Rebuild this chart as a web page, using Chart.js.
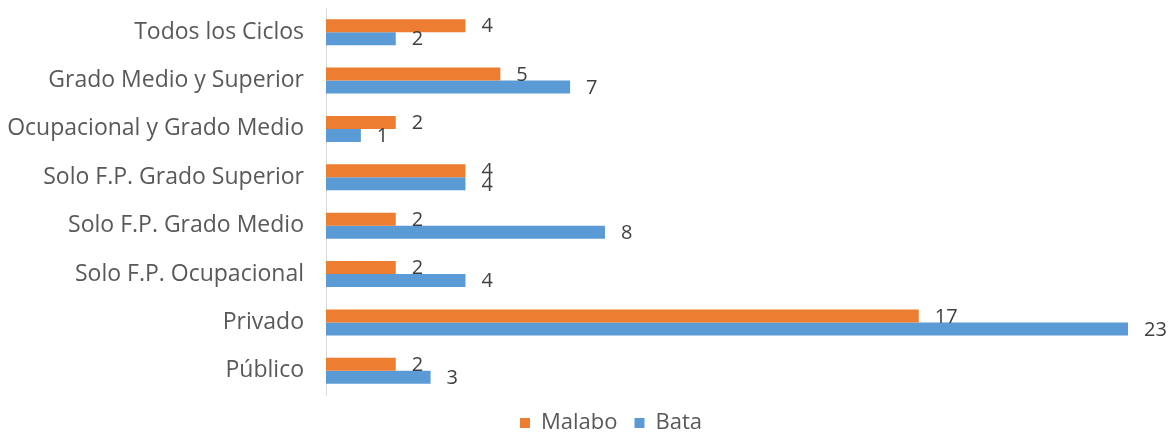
<!DOCTYPE html>
<html>
<head>
<meta charset="utf-8">
<script src="https://cdn.jsdelivr.net/npm/chart.js@4"></script>
<style>
  html, body { margin: 0; padding: 0; background: #fff; }
  #wrap { width: 1175px; height: 432px; }
</style>
</head>
<body>
<div id="wrap"><canvas id="chart" width="1175" height="432"></canvas></div>
<script>
const categories = [
  "Todos los Ciclos",
  "Grado Medio y Superior",
  "Ocupacional y Grado Medio",
  "Solo F.P. Grado Superior",
  "Solo F.P. Grado Medio",
  "Solo F.P. Ocupacional",
  "Privado",
  "Público"
];
const malabo = [4, 5, 2, 4, 2, 2, 17, 2];
const bata = [2, 7, 1, 4, 8, 4, 23, 3];

const textColor = "#595959";
const fontFamily = "'Open Sans', 'Noto Sans', sans-serif";

// value labels just past the end of each bar
const valueLabels = {
  id: "valueLabels",
  afterDatasetsDraw(chart) {
    const ctx = chart.ctx;
    ctx.save();
    ctx.font = "20px " + fontFamily;
    ctx.fillStyle = "#404040";
    ctx.textAlign = "left";
    ctx.textBaseline = "middle";
    chart.data.datasets.forEach((ds, i) => {
      const meta = chart.getDatasetMeta(i);
      meta.data.forEach((bar, j) => {
        ctx.fillText(String(ds.data[j]), bar.x + 16, bar.y + 1);
      });
    });
    ctx.restore();
  }
};

// the legend sits a bit right of the canvas centre in the original
const legendShift = {
  id: "legendShift",
  afterLayout(chart) {
    chart.legend.left += 47;
    chart.legend.right += 47;
  }
};

const ctx = document.getElementById("chart").getContext("2d");
new Chart(ctx, {
  type: "bar",
  data: {
    labels: categories,
    datasets: [
      { label: "Malabo", data: malabo, backgroundColor: "#ED7D31" },
      { label: "Bata", data: bata, backgroundColor: "#5B9BD5" }
    ]
  },
  options: {
    indexAxis: "y",
    responsive: false,
    animation: false,
    categoryPercentage: 0.54,
    barPercentage: 1,
    layout: { padding: { top: 8, right: 47, left: 0, bottom: -12 } },
    plugins: {
      legend: {
        position: "bottom",
        labels: {
          boxWidth: 10,
          boxHeight: 10,
          padding: 17,
          color: textColor,
          font: { size: 22, family: fontFamily }
        }
      },
      tooltip: { enabled: false }
    },
    scales: {
      x: {
        display: false,
        min: 0,
        max: 23
      },
      y: {
        grid: { display: false, drawTicks: true, tickLength: 22 },
        border: { display: true, color: "#d9d9d9", width: 1 },
        ticks: {
          color: textColor,
          padding: 0,
          font: { size: 23, family: fontFamily }
        },
        afterFit(scale) {
          scale.width = 326;
          scale.paddingTop = 0;
          scale.paddingBottom = 0;
        }
      }
    }
  },
  plugins: [valueLabels, legendShift]
});
</script>
</body>
</html>
